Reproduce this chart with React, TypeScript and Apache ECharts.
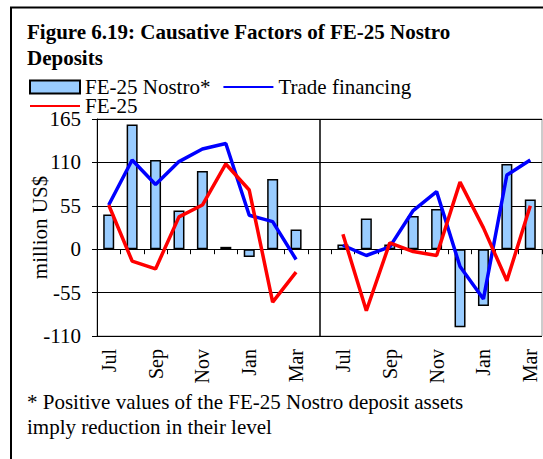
import React, { useEffect, useRef } from "react";
import * as echarts from "echarts";

const categories = ["Jul", "Aug", "Sep", "Oct", "Nov", "Dec", "Jan", "Feb", "Mar", "", "Jul", "Aug", "Sep", "Oct", "Nov", "Dec", "Jan", "Feb", "Mar"];
const nostro = [44, 158, 113, 49, 99, 3, -10, 89, 25, null, 6, 39, 6, 42, 51, -99, -72, 108, 63];
const tradeFinancing = [56, 113, 82, 111, 127, 134, 43, 35, -13, null, 5, -8, 3, 49, 73, -22, -63, 94, 113];
const fe25 = [56, -15, -25, 41, 56, 108, 75, -67, -29, null, 19, -78, 8, -3, -8, 85, 27, -40, 55];
const yTicks = { min: -110, max: 165, interval: 55 };

const FONT = "Liberation Serif";
const hidden = { color: "rgba(0,0,0,0)", borderColor: "rgba(0,0,0,0)", borderWidth: 0, opacity: 0 };

export default function App() {
  const ref = useRef<HTMLDivElement>(null);
  useEffect(() => {
    if (!ref.current) return;
    const chart = echarts.init(ref.current, undefined, { renderer: "svg" });
    const legendText = { fontFamily: FONT, fontSize: 21, color: "#000", lineHeight: 18 };
    chart.setOption({
      animation: false,
      backgroundColor: "#fff",
      title: {
        text: "Figure 6.19: Causative Factors of FE-25 Nostro\nDeposits",
        left: 27,
        top: 19,
        padding: 0,
        textStyle: { fontFamily: FONT, fontWeight: "bold", fontSize: 21, lineHeight: 26, color: "#000" },
      },
      legend: [
        {
          data: [
            { name: "FE-25 Nostro*", icon: "rect" },
            { name: "Trade financing", itemStyle: hidden },
          ],
          left: 29,
          top: 76.5,
          padding: 0,
          itemWidth: 50,
          itemHeight: 13,
          itemGap: 12,
          textStyle: legendText,
        },
        {
          data: [{ name: "FE-25", itemStyle: hidden }],
          left: 29,
          top: 95.5,
          padding: 0,
          itemWidth: 50,
          itemHeight: 13,
          textStyle: legendText,
        },
      ],
      grid: { left: 97, top: 119, width: 445, height: 217, show: true, borderColor: "#999", borderWidth: 1, backgroundColor: "transparent" },
      xAxis: [
        {
          type: "category",
          data: categories,
          position: "bottom",
          axisLine: { show: false, onZero: false },
          axisTick: { show: false },
          axisLabel: { interval: 1, rotate: 90, margin: 13, fontFamily: FONT, fontSize: 20, color: "#000" },
        },
        {
          type: "category",
          data: categories,
          position: "top",
          axisLine: { show: true, onZero: true, lineStyle: { color: "#000", width: 1 } },
          axisTick: { show: true, inside: true, interval: 0, length: 5, lineStyle: { color: "#000" } },
          axisLabel: { show: false },
        },
      ],
      yAxis: {
        type: "value",
        min: yTicks.min,
        max: yTicks.max,
        interval: yTicks.interval,
        name: "million US$",
        nameLocation: "middle",
        nameGap: 47,
        nameMoveOverlap: false,
        nameTextStyle: { fontFamily: FONT, fontSize: 21, color: "#000" },
        axisLine: { show: true, lineStyle: { color: "#000", width: 1 } },
        axisTick: { show: true, length: 5, lineStyle: { color: "#000" } },
        axisLabel: { margin: 16, fontFamily: FONT, fontSize: 21, color: "#000" },
        splitLine: { show: true, lineStyle: { color: "#000", width: 1 } },
      },
      series: [
        {
          name: "FE-25 Nostro*",
          type: "bar",
          xAxisIndex: 0,
          data: nostro,
          barWidth: 11,
          itemStyle: { color: "#99CCFF", borderColor: "#000", borderWidth: 1.5 },
          markLine: {
            silent: true,
            symbol: "none",
            label: { show: false },
            lineStyle: { color: "#000", width: 1.5, type: "solid" },
            data: [{ xAxis: 9 }],
          },
        },
        {
          name: "Trade financing",
          type: "line",
          xAxisIndex: 0,
          data: tradeFinancing,
          symbol: "none",
          lineStyle: { color: "#0000FF", width: 3.5 },
          itemStyle: { color: "#0000FF" },
          z: 3,
        },
        {
          name: "FE-25",
          type: "line",
          xAxisIndex: 0,
          data: fe25,
          symbol: "none",
          lineStyle: { color: "#FF0000", width: 3.5 },
          itemStyle: { color: "#FF0000" },
          z: 4,
        },
      ],
      graphic: [
        {
          type: "rect",
          shape: { x: 11, y: 7.5, width: 600, height: 500 },
          style: { fill: "none", stroke: "#000", lineWidth: 2 },
          silent: true,
        },
        {
          type: "text",
          x: 27,
          y: 389,
          style: {
            text: "* Positive values of the FE-25 Nostro deposit assets\nimply reduction in their level",
            fontFamily: FONT,
            fontSize: 21,
            lineHeight: 25,
            fill: "#000",
            verticalAlign: "top",
          },
        },
      ],
    });
    return () => chart.dispose();
  }, []);
  return <div ref={ref} style={{ position: "fixed", left: 0, top: 0, width: 543, height: 459 }} />;
}
